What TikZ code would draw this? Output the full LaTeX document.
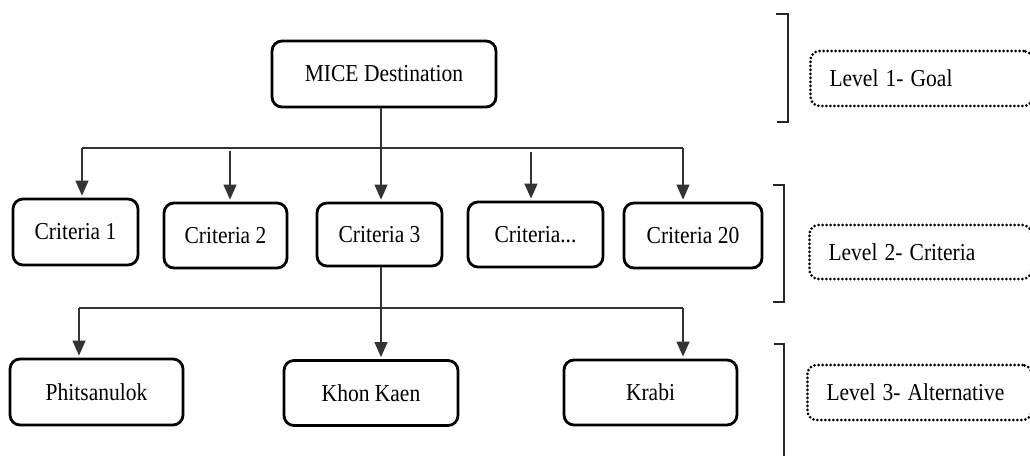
\documentclass[tikz,border=0pt]{standalone}
\usepackage{fontspec}
\setmainfont{Liberation Serif}
\usetikzlibrary{arrows.meta}
\newcommand{\sqz}[1]{\scalebox{0.885}[1]{#1}}
\begin{document}
\begin{tikzpicture}[x=1pt,y=-1pt,
  font=\fontsize{24.3}{28}\selectfont,
  box/.style={draw=black, line width=2.8pt, rounded corners=10pt, fill=white, inner sep=0pt, align=center},
  conn/.style={draw=black!80, line width=1.2pt},
  arr/.style={conn, -{Triangle[length=15pt,width=13pt]}, shorten >=2pt},
  brk/.style={draw=black!85, line width=1.3pt},
  lvl/.style={draw=black, line width=3pt, dash pattern=on 0pt off 4pt, line cap=round,
              rounded corners=9pt, inner xsep=19pt, inner ysep=0pt, text width=184pt, align=left, anchor=west}
]
\fill[white] (0,0) rectangle (1030,455);
\useasboundingbox (0,0) rectangle (1030,455);

% Level 1
\node[box, minimum width=224pt, minimum height=66pt] (mice) at (384,74) {\sqz{MICE Destination}};

% Level 2
\node[box, minimum width=125pt, minimum height=66pt] (c1) at (75.5,232) {\sqz{Criteria 1}};
\node[box, minimum width=123pt, minimum height=65pt] (c2) at (225.5,235.5) {\sqz{Criteria 2}};
\node[box, minimum width=125pt, minimum height=63pt] (c3) at (379.5,234.5) {\sqz{Criteria 3}};
\node[box, minimum width=135pt, minimum height=65pt] (c4) at (535.5,234.5) {\sqz{Criteria...}};
\node[box, minimum width=138pt, minimum height=65pt] (c5) at (693,235.5) {\sqz{Criteria 20}};

% Level 3
\node[box, minimum width=173pt, minimum height=66pt] (p) at (96.5,392) {\sqz{Phitsanulok}};
\node[box, minimum width=174pt, minimum height=65pt] (k) at (371,393) {\sqz{Khon Kaen}};
\node[box, minimum width=173pt, minimum height=65pt] (kr) at (650.5,392.5) {\sqz{Krabi}};

% top connectors
\coordinate (h0) at (381,148);
\coordinate (h1) at (82,148);
\coordinate (h2) at (230,151);
\coordinate (h4) at (531,152);
\coordinate (h5) at (683,148);
\draw[conn] (h1) -- (h5);
\draw[arr] (h0 |- mice.south) -- (h0 |- c3.north);
\draw[arr] (h1) -- (h1 |- c1.north);
\draw[arr] (h2) -- (h2 |- c2.north);
\draw[arr] (h4) -- (h4 |- c4.north);
\draw[arr] (h5) -- (h5 |- c5.north);

% bottom connectors
\coordinate (g0) at (381,308);
\coordinate (g1) at (79,308);
\coordinate (g3) at (683,308);
\draw[conn] (g1) -- (g3);
\draw[arr] (g0 |- c3.south) -- (g0 |- k.north);
\draw[arr] (g1) -- (g1 |- p.north);
\draw[arr] (g3) -- (g3 |- kr.north);

% brackets
\draw[brk] (776,14) -- (788,14) -- (788,122) -- (777,122);
\draw[brk] (773,185) -- (784,185) -- (784,302) -- (773,302);
\draw[brk] (774,344) -- (784,344) -- (784,456);

% level labels
\node[lvl, minimum height=55pt] (l1) at (809,78.5) {\sqz{Level 1- Goal}};
\node[lvl, minimum height=54pt] (l2) at (808,252) {\sqz{Level 2- Criteria}};
\node[lvl, minimum height=55pt, text width=186pt] (l3) at (806,392.5) {\sqz{Level 3- Alternative}};
\end{tikzpicture}
\end{document}
